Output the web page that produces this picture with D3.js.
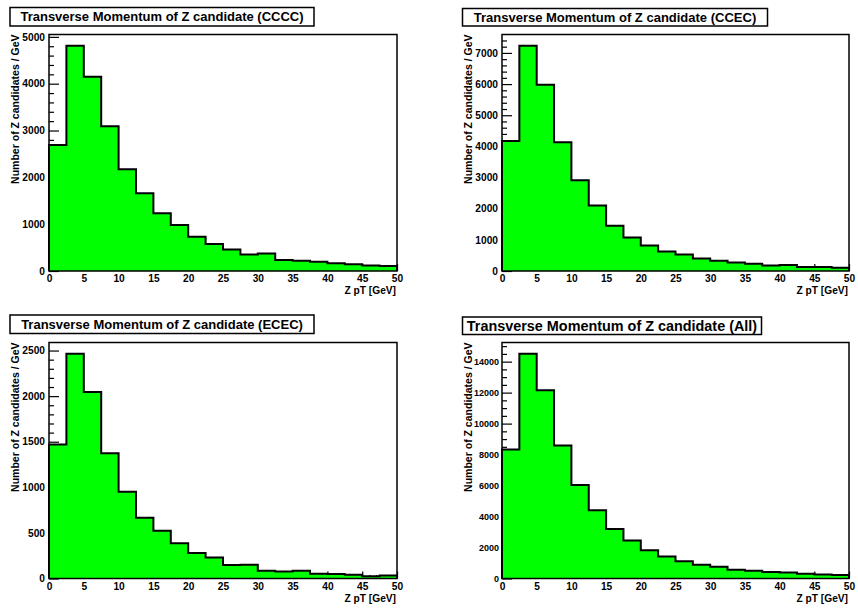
<!DOCTYPE html>
<html>
<head>
<meta charset="utf-8">
<script src="https://cdn.jsdelivr.net/npm/d3@7"></script>
<style>
  body { margin: 0; background: #fff; }
  text { font-family: "Liberation Sans", Arial, Helvetica, sans-serif; font-weight: bold; fill: #000; }
</style>
</head>
<body>
<svg id="chart" width="858" height="608"></svg>
<script>
// Z pT histogram: 20 bins of 2.5 GeV from 0 to 50 GeV
const binEdges = d3.range(0, 50.001, 2.5);
const xTickValues = d3.range(0, 50.001, 5);
const xMinorValues = d3.range(0, 50.001, 1);

// Number of Z candidates per bin for each detector category
const countsCCCC = [2690, 4810, 4150, 3090, 2175, 1660, 1235, 980, 730, 575, 460, 355, 375, 235, 218, 200, 165, 143, 118, 107];
const countsCCEC = [4170, 7230, 5980, 4130, 2915, 2100, 1450, 1078, 820, 627, 530, 402, 327, 273, 230, 177, 193, 129, 129, 107];
const countsECEC = [1470, 2465, 2045, 1373, 952, 666, 525, 386, 280, 231, 148, 152, 86, 77, 84, 53, 50, 40, 24, 33];
const countsAll  = [8335, 14510, 12160, 8594, 6035, 4410, 3200, 2450, 1830, 1425, 1110, 880, 765, 565, 505, 415, 380, 300, 255, 225];

const panelTitles = [
  "Transverse Momentum of Z candidate (CCCC)",
  "Transverse Momentum of Z candidate (CCEC)",
  "Transverse Momentum of Z candidate (ECEC)",
  "Transverse Momentum of Z candidate (All)"
];

// Labelled y ticks per panel
const yTicksCCCC = [0, 1000, 2000, 3000, 4000, 5000];
const yTicksCCEC = [0, 1000, 2000, 3000, 4000, 5000, 6000, 7000];
const yTicksECEC = [0, 500, 1000, 1500, 2000, 2500];
const yTicksAll  = [0, 2000, 4000, 6000, 8000, 10000, 12000, 14000];

const xTitle = "Z pT [GeV]";
const yTitle = "Number of Z candidates / GeV";

// Pad geometry
const layout = [
  { left: 49,  right: 397, top: 34.5,  bottom: 271,   box: { x: 10,    y: 7.5, w: 304, h: 18.5, fs: 13 },   minor: 200, yfs: 10.2, ypad: 4 },
  { left: 502, right: 849, top: 34.5,  bottom: 271,   box: { x: 462.5, y: 8.5, w: 305, h: 17.5, fs: 13 },   minor: 200, yfs: 10.2, ypad: 4 },
  { left: 49,  right: 397, top: 342.5, bottom: 578.5, box: { x: 10,    y: 315, w: 304, h: 18.5, fs: 13 },   minor: 100, yfs: 10.2, ypad: 4 },
  { left: 502, right: 849, top: 342.5, bottom: 578.5, box: { x: 462.5, y: 317, w: 299, h: 17.5, fs: 14.4 }, minor: 500, yfs: 9,    ypad: 3 }
];

const allCounts = [countsCCCC, countsCCEC, countsECEC, countsAll];
const allYTicks = [yTicksCCCC, yTicksCCEC, yTicksECEC, yTicksAll];

const svg = d3.select("#chart");

function drawPanel(i) {
  const L = layout[i], counts = allCounts[i];
  const g = svg.append("g");

  const x = d3.scaleLinear().domain([0, 50]).range([L.left, L.right]);
  const ymax = d3.max(counts) * 1.05;
  const y = d3.scaleLinear().domain([0, ymax]).range([L.bottom, L.top]);

  // title box
  g.append("rect")
    .attr("x", L.box.x).attr("y", L.box.y)
    .attr("width", L.box.w).attr("height", L.box.h)
    .attr("fill", "#fff").attr("stroke", "#000").attr("stroke-width", 1.5);
  g.append("text")
    .attr("x", L.box.x + L.box.w / 2)
    .attr("y", L.box.y + L.box.h / 2 + 0.35 * L.box.fs)
    .attr("text-anchor", "middle")
    .style("font-size", L.box.fs + "px")
    .text(panelTitles[i]);

  // minor ticks (drawn first so the histogram fill covers them)
  const yMinor = d3.range(0, ymax, L.minor).filter(v => !allYTicks[i].includes(v));
  g.append("g")
    .attr("transform", `translate(${L.left},0)`)
    .call(d3.axisLeft(y).tickValues(yMinor).tickSize(-5).tickFormat(""))
    .call(a => a.select(".domain").remove())
    .call(a => a.selectAll("line").attr("stroke-width", 1.2));
  g.append("g")
    .attr("transform", `translate(0,${L.bottom})`)
    .call(d3.axisBottom(x).tickValues(xMinorValues.filter(v => v % 5 !== 0)).tickSize(-3.5).tickFormat(""))
    .call(a => a.select(".domain").remove())
    .call(a => a.selectAll("line").attr("stroke-width", 1.2));

  // major ticks with labels
  g.append("g")
    .attr("transform", `translate(${L.left},0)`)
    .call(d3.axisLeft(y).tickValues(allYTicks[i]).tickSize(-10).tickPadding(L.ypad).tickFormat(d3.format("d")))
    .call(a => a.select(".domain").remove())
    .call(a => a.selectAll("line").attr("stroke-width", 1.2))
    .call(a => a.selectAll("text").style("font-size", L.yfs + "px").style("font-family", null).attr("fill", "#000"));
  g.append("g")
    .attr("transform", `translate(0,${L.bottom})`)
    .call(d3.axisBottom(x).tickValues(xTickValues).tickSize(-7).tickPadding(4).tickFormat(d3.format("d")))
    .call(a => a.select(".domain").remove())
    .call(a => a.selectAll("line").attr("stroke-width", 1.2))
    .call(a => a.selectAll("text").style("font-size", "10.2px").style("font-family", null).attr("fill", "#000"));

  // histogram fill and outline
  const pts = counts.map((c, k) => [binEdges[k], c]);
  pts.push([50, counts[counts.length - 1]]);
  const area = d3.area()
    .x(d => x(d[0])).y0(y(0)).y1(d => y(d[1]))
    .curve(d3.curveStepAfter);
  g.append("path").attr("d", area(pts)).attr("fill", "#00ff00");

  const outlinePts = [[0, 0]].concat(pts).concat([[50, 0]]);
  const line = d3.line().x(d => x(d[0])).y(d => y(d[1])).curve(d3.curveStepAfter);
  g.append("path").attr("d", line(outlinePts))
    .attr("fill", "none").attr("stroke", "#000").attr("stroke-width", 2);

  // frame
  g.append("rect")
    .attr("x", L.left).attr("y", L.top)
    .attr("width", L.right - L.left).attr("height", L.bottom - L.top)
    .attr("fill", "none").attr("stroke", "#000").attr("stroke-width", 1.5);

  // axis titles
  g.append("text")
    .attr("x", L.right - 1).attr("y", L.bottom + 23)
    .attr("text-anchor", "end")
    .style("font-size", "10.2px")
    .text(xTitle);
  g.append("text")
    .attr("transform", `translate(${L.left - 30},${L.top}) rotate(-90)`)
    .attr("text-anchor", "end")
    .style("font-size", "10.5px")
    .text(yTitle);
}

for (let i = 0; i < 4; i++) drawPanel(i);
</script>
</body>
</html>
